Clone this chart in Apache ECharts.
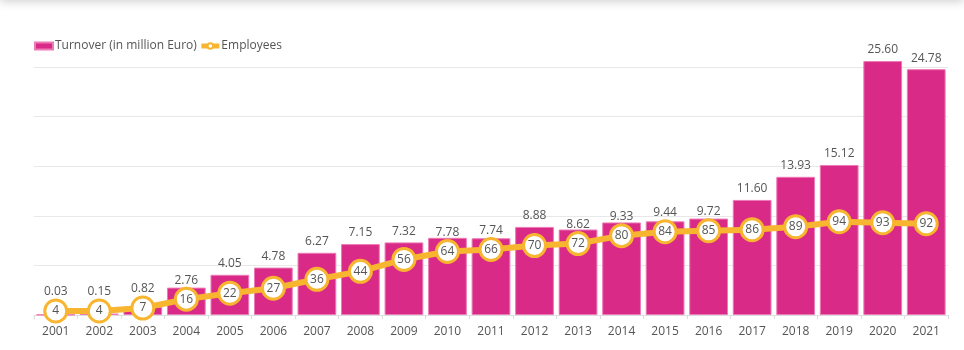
<!DOCTYPE html>
<html lang="en">
<head>
<meta charset="UTF-8">
<title>Turnover and Employees</title>
<style>
    html, body { margin: 0; padding: 0; background: #fff; overflow: hidden; }
    #topShade { position: absolute; left: 0; top: -12px; width: 964px; height: 12px; box-shadow: 0 2px 10px rgba(0,0,0,0.18); }
    #chart { width: 964px; height: 350px; }
</style>
</head>
<body>
<div id="topShade"></div>
<div id="chart"></div>
<script src="https://cdn.jsdelivr.net/npm/echarts@6/dist/echarts.min.js"></script>
<script>
    var years = ['2001','2002','2003','2004','2005','2006','2007','2008','2009','2010','2011',
                 '2012','2013','2014','2015','2016','2017','2018','2019','2020','2021'];
    var turnover = [0.03, 0.15, 0.82, 2.76, 4.05, 4.78, 6.27, 7.15, 7.32, 7.78, 7.74,
                    8.88, 8.62, 9.33, 9.44, 9.72, 11.60, 13.93, 15.12, 25.60, 24.78];
    var employees = [4, 4, 7, 16, 22, 27, 36, 44, 56, 64, 66,
                     70, 72, 80, 84, 85, 86, 89, 94, 93, 92];

    var leftMax = 25, rightMax = 250;
    var gridTop = 67, gridBottom = 35;
    var plotH = 350 - gridTop - gridBottom;
    var circleR = 11;

    // 标签避开圆点: 圆点高于柱顶时把标签往上推
    var barData = [];
    for (var i = 0; i < turnover.length; i++) {
        var barTop = turnover[i] / leftMax * plotH;
        var circTop = employees[i] / rightMax * plotH + circleR;
        var dist = 5;
        if (circTop + 4 > barTop) dist = circTop - barTop + 2;
        barData.push({ value: turnover[i], label: { distance: dist } });
    }

    var chart = echarts.init(document.getElementById('chart'));
    var txt = '#555555';
    var fontFam = '"Open Sans", "Noto Sans", sans-serif';
    var option = {
        animation: false,
        legend: {
            left: 29, top: 35,
            itemGap: 2,
            itemWidth: 18, itemHeight: 7,
            textStyle: { color: txt, fontSize: 12, fontWeight: 500, fontFamily: fontFam, padding: [0, 0, 0, -3] },
            data: [
                { name: 'Turnover (in million Euro)', icon: 'rect' },
                { name: 'Employees', lineStyle: { width: 5 }, itemStyle: { borderWidth: 2 } }
            ]
        },
        grid: { left: 34, right: 16, top: gridTop, bottom: gridBottom },
        xAxis: {
            type: 'category',
            data: years,
            axisLine: { lineStyle: { color: '#dddddd' } },
            axisTick: { show: true, length: 4, lineStyle: { color: '#dddddd' } },
            axisLabel: { color: txt, fontSize: 12, fontWeight: 500, fontFamily: fontFam, margin: 11 }
        },
        yAxis: [
            {
                type: 'value', min: 0, max: leftMax, interval: 5,
                axisLabel: { show: false }, axisLine: { show: false }, axisTick: { show: false },
                splitLine: { lineStyle: { color: '#e8e8e8' } }
            },
            {
                type: 'value', min: 0, max: rightMax, interval: 50,
                axisLabel: { show: false }, axisLine: { show: false }, axisTick: { show: false },
                splitLine: { show: false }
            }
        ],
        series: [
            {
                name: 'Turnover (in million Euro)',
                type: 'bar',
                yAxisIndex: 0,
                clip: false,
                barCategoryGap: '11%',
                itemStyle: { color: '#DA2A87', borderColor: '#EC7AB6', borderWidth: 1 },
                label: {
                    show: true, position: 'top',
                    color: txt, fontSize: 12, fontWeight: 500, fontFamily: fontFam,
                    formatter: function (p) { return p.value.toFixed(2); }
                },
                data: barData
            },
            {
                name: 'Employees',
                type: 'line',
                yAxisIndex: 1,
                symbol: 'circle',
                symbolSize: circleR * 2,
                lineStyle: { color: '#F8B530', width: 6 },
                itemStyle: { color: '#ffffff', borderColor: '#F8B530', borderWidth: 3 },
                label: {
                    show: true, position: 'inside',
                    color: txt, fontSize: 12, fontWeight: 500, fontFamily: fontFam
                },
                z: 3,
                data: employees
            }
        ]
    };
    chart.setOption(option);
</script>
</body>
</html>
